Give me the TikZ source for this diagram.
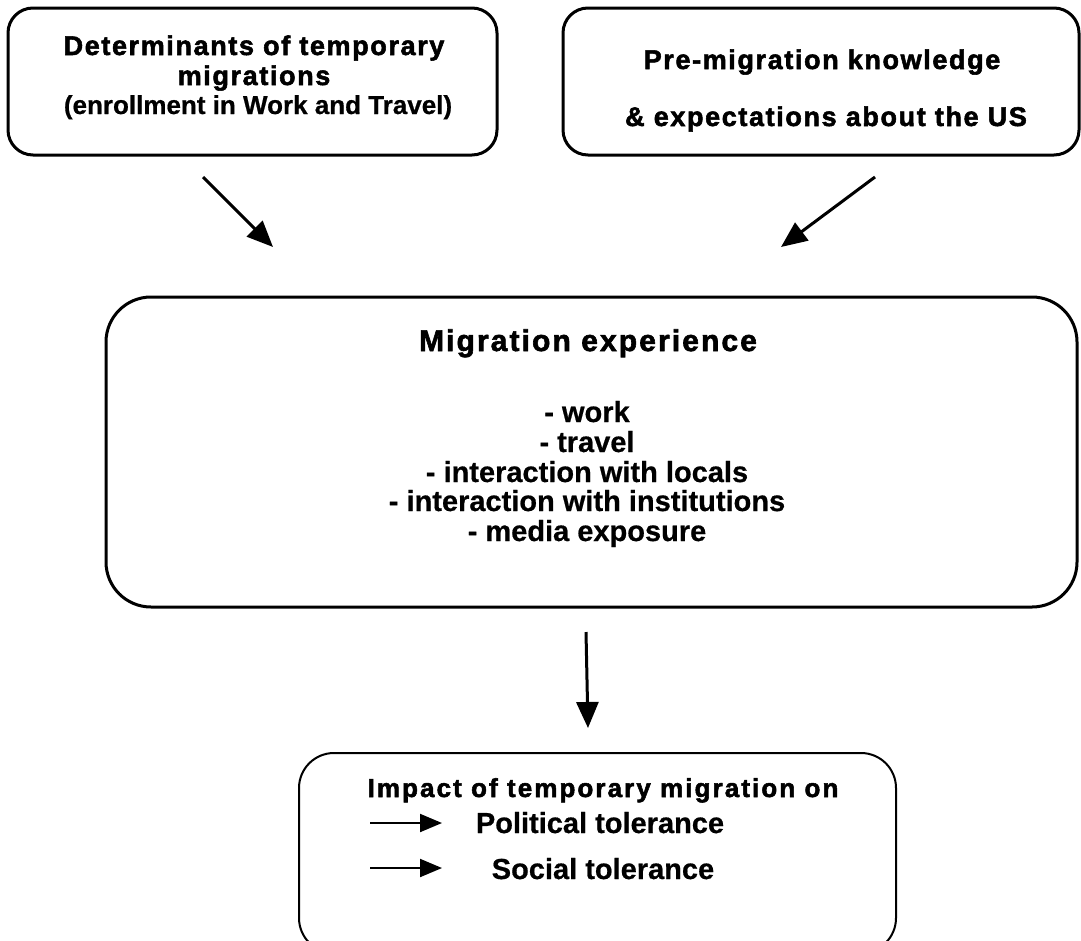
\documentclass[tikz,border=0pt]{standalone}
\usepackage{fontspec}
\setmainfont{Liberation Sans}
\newfontfamily\hd[LetterSpace=6,FakeBold=2]{Liberation Sans}
\newfontfamily\hdw[LetterSpace=8,FakeBold=2]{Liberation Sans}
\newfontfamily\hdm[LetterSpace=7,FakeBold=2]{Liberation Sans}
\newfontfamily\bd[FakeBold=0.6]{Liberation Sans}
\usetikzlibrary{arrows.meta}
\begin{document}
\begin{tikzpicture}[x=1pt,y=-1pt,
  box/.style={draw=black, line width=3pt, rounded corners=25pt, inner sep=0pt},
  head/.style={anchor=base, inner sep=0pt, font=\hd\bfseries\fontsize{27}{30}\selectfont},
  body/.style={anchor=base, inner sep=0pt, font=\bd\bfseries\fontsize{29}{30}\selectfont},
  big/.style={line width=3pt, -{Triangle[length=26pt,width=22pt]}},
  small/.style={line width=2pt, -{Triangle[length=22pt,width=18pt]}}]
\useasboundingbox (0,0) rectangle (1081,940);
\fill[white] (0,0) rectangle (1081,940);
% boxes
\node[box, minimum width=489pt, minimum height=147pt] (b1) at (252.5,81.5) {};
\node[box, minimum width=516pt, minimum height=147pt] (b2) at (821,81.5) {};
\node[box, rounded corners=45pt, minimum width=971pt, minimum height=310pt] (b3) at (591.5,452) {};
\node[box, line width=2pt, rounded corners=35pt, minimum width=597pt, minimum height=200pt] (b4) at (597.5,853) {};
% texts box 1
\node[head] (t11) at (254,55) {Determinants of temporary};
\node[head] (t12) at (254,85) {migrations};
\node[body, font=\bd\bfseries\fontsize{26}{30}\selectfont] (t13) at (258,114) {(enrollment in Work and Travel)};
% texts box 2
\node[head] (t21) at (822,69) {Pre-migration knowledge};
\node[head] (t22) at (826,126) {\& expectations about the US};
% texts box 3
\node[head, font=\hdm\bfseries\fontsize{30}{30}\selectfont] (t31) at (588,351) {Migration experience};
\node[body] (t32) at (587,422) {- work};
\node[body] (t33) at (587,452) {- travel};
\node[body] (t34) at (587,482) {- interaction with locals};
\node[body] (t35) at (587,511) {- interaction with institutions};
\node[body] (t36) at (587,541) {- media exposure};
% texts box 4
\node[head, font=\hdw\bfseries\fontsize{26}{30}\selectfont] (t41) at (603,797) {Impact of temporary migration on};
\node[body] (t42) at (600,833) {Political tolerance};
\node[body] (t43) at (603,879) {Social tolerance};
% arrows
\coordinate (a1s) at (203,177); \coordinate (a1e) at (273,247);
\coordinate (a2s) at (875,177); \coordinate (a2e) at (781,247);
\coordinate (a3s) at (586,632); \coordinate (a3e) at (588,728);
\coordinate (p1s) at (370,823); \coordinate (p1e) at (442,823);
\coordinate (p2s) at (370,868); \coordinate (p2e) at (442,868);
\draw[big] (a1s) -- (a1e);
\draw[big] (a2s) -- (a2e);
\draw[big] (a3s) -- (a3e);
\draw[small] (p1s) -- (p1e);
\draw[small] (p2s) -- (p2e);
\end{tikzpicture}
\end{document}
